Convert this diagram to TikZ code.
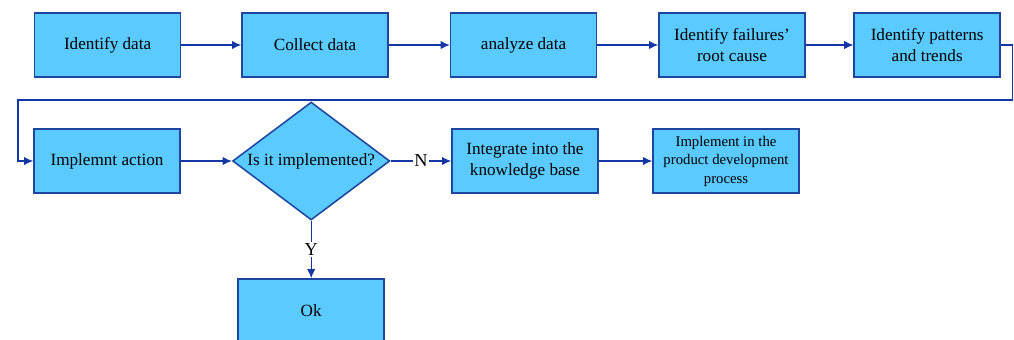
\documentclass[tikz,border=0pt]{standalone}
\usepackage{fontspec}
\setmainfont{Liberation Serif}
\usetikzlibrary{arrows.meta,shapes.geometric}
\definecolor{boxfill}{RGB}{90,202,255}
\definecolor{boxline}{RGB}{30,70,160}
\definecolor{flowline}{RGB}{20,55,165}
\tikzset{
    stepbox/.style={draw=boxline, fill=boxfill, line width=1.1pt, minimum width=3.65cm, minimum height=1.6cm, align=center, font=\rmfamily\fontsize{12.2}{15.2}\selectfont},
    decide/.style={draw=boxline, fill=boxfill, line width=1.1pt, diamond, minimum width=3.93cm, minimum height=2.95cm, inner sep=0pt},
    flow/.style={draw=flowline, line width=0.9pt, -{Latex[length=2.3mm,width=2.1mm]}},
    answer/.style={fill=white, inner sep=1pt, font=\rmfamily\fontsize{13}{15}\selectfont}
}
\begin{document}
\begin{tikzpicture}
    \useasboundingbox (0,0) rectangle (25.35,-8.475);

    % First row
    \node[stepbox] (identify) at (2.69,-1.125) {Identify data};
    \node[stepbox] (collect) at (7.875,-1.125) {Collect data};
    \node[stepbox] (analyze) at (13.09,-1.125) {analyze data};
    \node[stepbox] (rootcause) at (18.3,-1.125) {Identify failures'\\root cause};
    \node[stepbox] (patterns) at (23.18,-1.125) {Identify patterns\\and trends};

    % Second row
    \node[stepbox] (action) at (2.675,-4.025) {Implemnt action};
    \node[decide, label={[font=\rmfamily\fontsize{12.2}{14}\selectfont]center:Is it implemented?}] (check) at (7.78,-4.025) {};
    \node[stepbox] (integrate) at (13.125,-4.025) {Integrate into the\\knowledge base};
    \node[stepbox, font=\rmfamily\fontsize{10.5}{13.2}\selectfont] (product) at (18.15,-4.025) {Implement in the\\product development\\process};

    % Yes branch
    \node[stepbox] (ok) at (7.78,-7.775) {Ok};

    % Connectors
    \draw[flow] (identify) -- (collect);
    \draw[flow] (collect) -- (analyze);
    \draw[flow] (analyze) -- (rootcause);
    \draw[flow] (rootcause) -- (patterns);

    % Back to the second row
    \coordinate (backR) at (25.32,-2.5);
    \coordinate (backL) at (0.45,-2.5);
    \draw[flow] (patterns.east) -| (backR) -- (backL) |- (action.west);

    \draw[flow] (action) -- (check);
    \draw[flow] (check) -- node[answer] {N} (integrate);
    \draw[flow] (integrate) -- (product);
    \draw[flow] (check) -- node[answer] {Y} (ok);

\end{tikzpicture}
\end{document}
